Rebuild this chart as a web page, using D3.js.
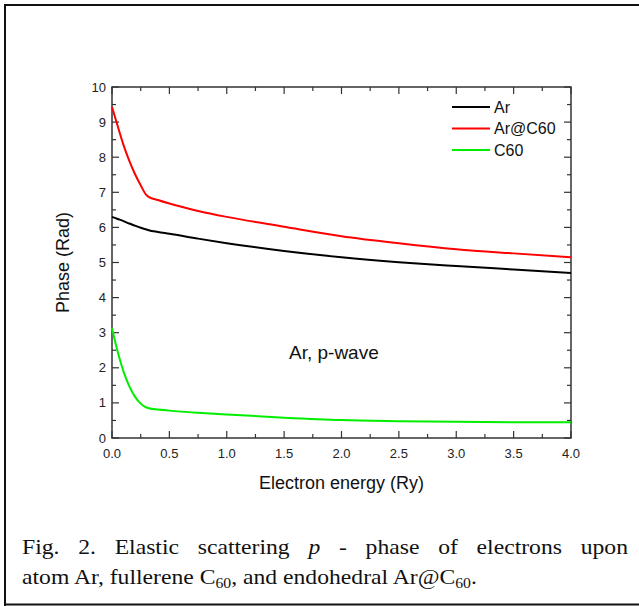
<!DOCTYPE html>
<html>
<head>
<meta charset="utf-8">
<script src="https://cdn.jsdelivr.net/npm/d3@7"></script>
<style>
  body { margin: 0; background: #fff; }
  svg { display: block; }
</style>
</head>
<body>
<div id="chart"></div>
<script>
// values
var energy = [0, 0.05, 0.1, 0.15, 0.2, 0.25, 0.3, 0.32, 0.4, 0.5, 0.75, 1.0, 1.5, 2.0, 2.5, 3.0, 3.5, 4.0];
var phaseAr = [6.30, 6.24, 6.18, 6.11, 6.05, 5.99, 5.94, 5.92, 5.87, 5.82, 5.68, 5.55, 5.33, 5.15, 5.01, 4.90, 4.80, 4.70];
var phaseArC60 = [9.43, 8.88, 8.35, 7.90, 7.52, 7.20, 6.92, 6.87, 6.78, 6.68, 6.47, 6.30, 6.02, 5.75, 5.55, 5.38, 5.26, 5.15];
var phaseC60 = [3.13, 2.45, 1.90, 1.48, 1.18, 0.98, 0.87, 0.85, 0.81, 0.78, 0.72, 0.67, 0.58, 0.51, 0.48, 0.46, 0.45, 0.45];
var seriesNames = ["Ar", "Ar@C60", "C60"];
var xTicks = [0, 0.5, 1.0, 1.5, 2.0, 2.5, 3.0, 3.5, 4.0];
var yTicks = [0, 1, 2, 3, 4, 5, 6, 7, 8, 9, 10];

var W = 639, H = 606;
var pL = 112, pR = 571, pT = 87, pB = 438;
var colors = ["#000000", "#ff0000", "#00ee00"];

var svg = d3.select("#chart").append("svg").attr("width", W).attr("height", H);

// frame round the figure
svg.append("path").attr("d", "M5,606 L5,5 L639,5").attr("fill", "none").attr("stroke", "#111").attr("stroke-width", 2);
svg.append("line").attr("x1", 5).attr("x2", 639).attr("y1", 604.5).attr("y2", 604.5).attr("stroke", "#111").attr("stroke-width", 2);

var x = d3.scaleLinear().domain([0, 4]).range([pL, pR]);
var y = d3.scaleLinear().domain([0, 10]).range([pB, pT]);

var axisCol = "#333";
var g = svg.append("g");

// minor / major ticks, all pointing inward, mirrored on top and right
var xMinor = d3.range(0, 4.001, 0.25);
var yMinor = d3.range(0, 10.001, 0.5);
xMinor.forEach(function(v) {
	var major = Math.abs(v * 2 - Math.round(v * 2)) < 1e-6;
	var len = major ? 7 : 4;
	g.append("line").attr("x1", x(v)).attr("x2", x(v)).attr("y1", pB).attr("y2", pB - len).attr("stroke", axisCol).attr("stroke-width", 1.2);
	g.append("line").attr("x1", x(v)).attr("x2", x(v)).attr("y1", pT).attr("y2", pT + len).attr("stroke", axisCol).attr("stroke-width", 1.2);
});
yMinor.forEach(function(v) {
	var major = Math.abs(v - Math.round(v)) < 1e-6;
	var len = major ? 7 : 4;
	g.append("line").attr("y1", y(v)).attr("y2", y(v)).attr("x1", pL).attr("x2", pL + len).attr("stroke", axisCol).attr("stroke-width", 1.2);
	g.append("line").attr("y1", y(v)).attr("y2", y(v)).attr("x1", pR).attr("x2", pR - len).attr("stroke", axisCol).attr("stroke-width", 1.2);
});

g.append("rect").attr("x", pL).attr("y", pT).attr("width", pR - pL).attr("height", pB - pT)
	.attr("fill", "none").attr("stroke", axisCol).attr("stroke-width", 1.5);

var font = "Liberation Sans, Arial, sans-serif";
g.selectAll(".xl").data(xTicks).enter().append("text")
	.attr("x", function(d) { return x(d); }).attr("y", pB + 20)
	.attr("text-anchor", "middle").attr("font-family", font).attr("font-size", 13).attr("fill", "#222")
	.text(function(d) { return d3.format(".1f")(d); });
g.selectAll(".yl").data(yTicks).enter().append("text")
	.attr("x", pL - 6).attr("y", function(d) { return y(d) + 4.5; })
	.attr("text-anchor", "end").attr("font-family", font).attr("font-size", 13).attr("fill", "#222")
	.text(function(d) { return d; });

svg.append("text").attr("x", (pL + pR) / 2).attr("y", 489).attr("text-anchor", "middle")
	.attr("font-family", font).attr("font-size", 18).attr("fill", "#111").text("Electron energy (Ry)");
svg.append("text").attr("transform", "translate(69," + ((pT + pB) / 2) + ") rotate(-90)")
	.attr("text-anchor", "middle").attr("font-family", font).attr("font-size", 18).attr("fill", "#111").text("Phase (Rad)");
svg.append("text").attr("x", 289).attr("y", 359).attr("font-family", font).attr("font-size", 19).attr("fill", "#111").text("Ar, p-wave");

// curves
var line = d3.line().x(function(d) { return x(d[0]); }).y(function(d) { return y(d[1]); }).curve(d3.curveMonotoneX);
[phaseAr, phaseArC60, phaseC60].forEach(function(vals, i) {
	var pts = energy.map(function(e, k) { return [e, vals[k]]; });
	g.append("path").attr("d", line(pts)).attr("fill", "none").attr("stroke", colors[i]).attr("stroke-width", 2);
});

// legend
seriesNames.forEach(function(name, i) {
	var ly = 107 + i * 21.5;
	svg.append("line").attr("x1", 452).attr("x2", 490).attr("y1", ly).attr("y2", ly).attr("stroke", colors[i]).attr("stroke-width", 2);
	svg.append("text").attr("x", 494).attr("y", ly + 5.5).attr("font-family", font).attr("font-size", 16).attr("fill", "#111").text(name);
});

// caption: glyphs a bit wider than Liberation Serif, so stretch horizontally
var serif = "Liberation Serif, Times New Roman, serif";
var cap = svg.append("g").attr("font-family", serif).attr("font-size", 21).attr("fill", "#111");
var l2 = cap.append("text").attr("x", 0).attr("y", 584);
l2.append("tspan").text("atom Ar, fullerene C");
l2.append("tspan").attr("font-size", 14).attr("dy", 4).text("60");
l2.append("tspan").attr("dy", -4).text(", and endohedral Ar@C");
l2.append("tspan").attr("font-size", 14).attr("dy", 4).text("60");
l2.append("tspan").attr("dy", -4).text(".");
var sx = 455 / l2.node().getComputedTextLength();
cap.attr("transform", "translate(22,0) scale(" + sx + ",1)");

// first line justified between x=22 and x=628
var words = ["Fig.", "2.", "Elastic", "scattering", "p", "-", "phase", "of", "electrons", "upon"];
var nodes = words.map(function(w) {
	return cap.append("text").attr("y", 554).attr("font-style", w === "p" ? "italic" : null).text(w);
});
var widths = nodes.map(function(n) { return n.node().getComputedTextLength(); });
var gap = ((628 - 22) / sx - d3.sum(widths)) / (words.length - 1);
var cx = 0;
nodes.forEach(function(n, i) { n.attr("x", cx); cx += widths[i] + gap; });
</script>
</body>
</html>
